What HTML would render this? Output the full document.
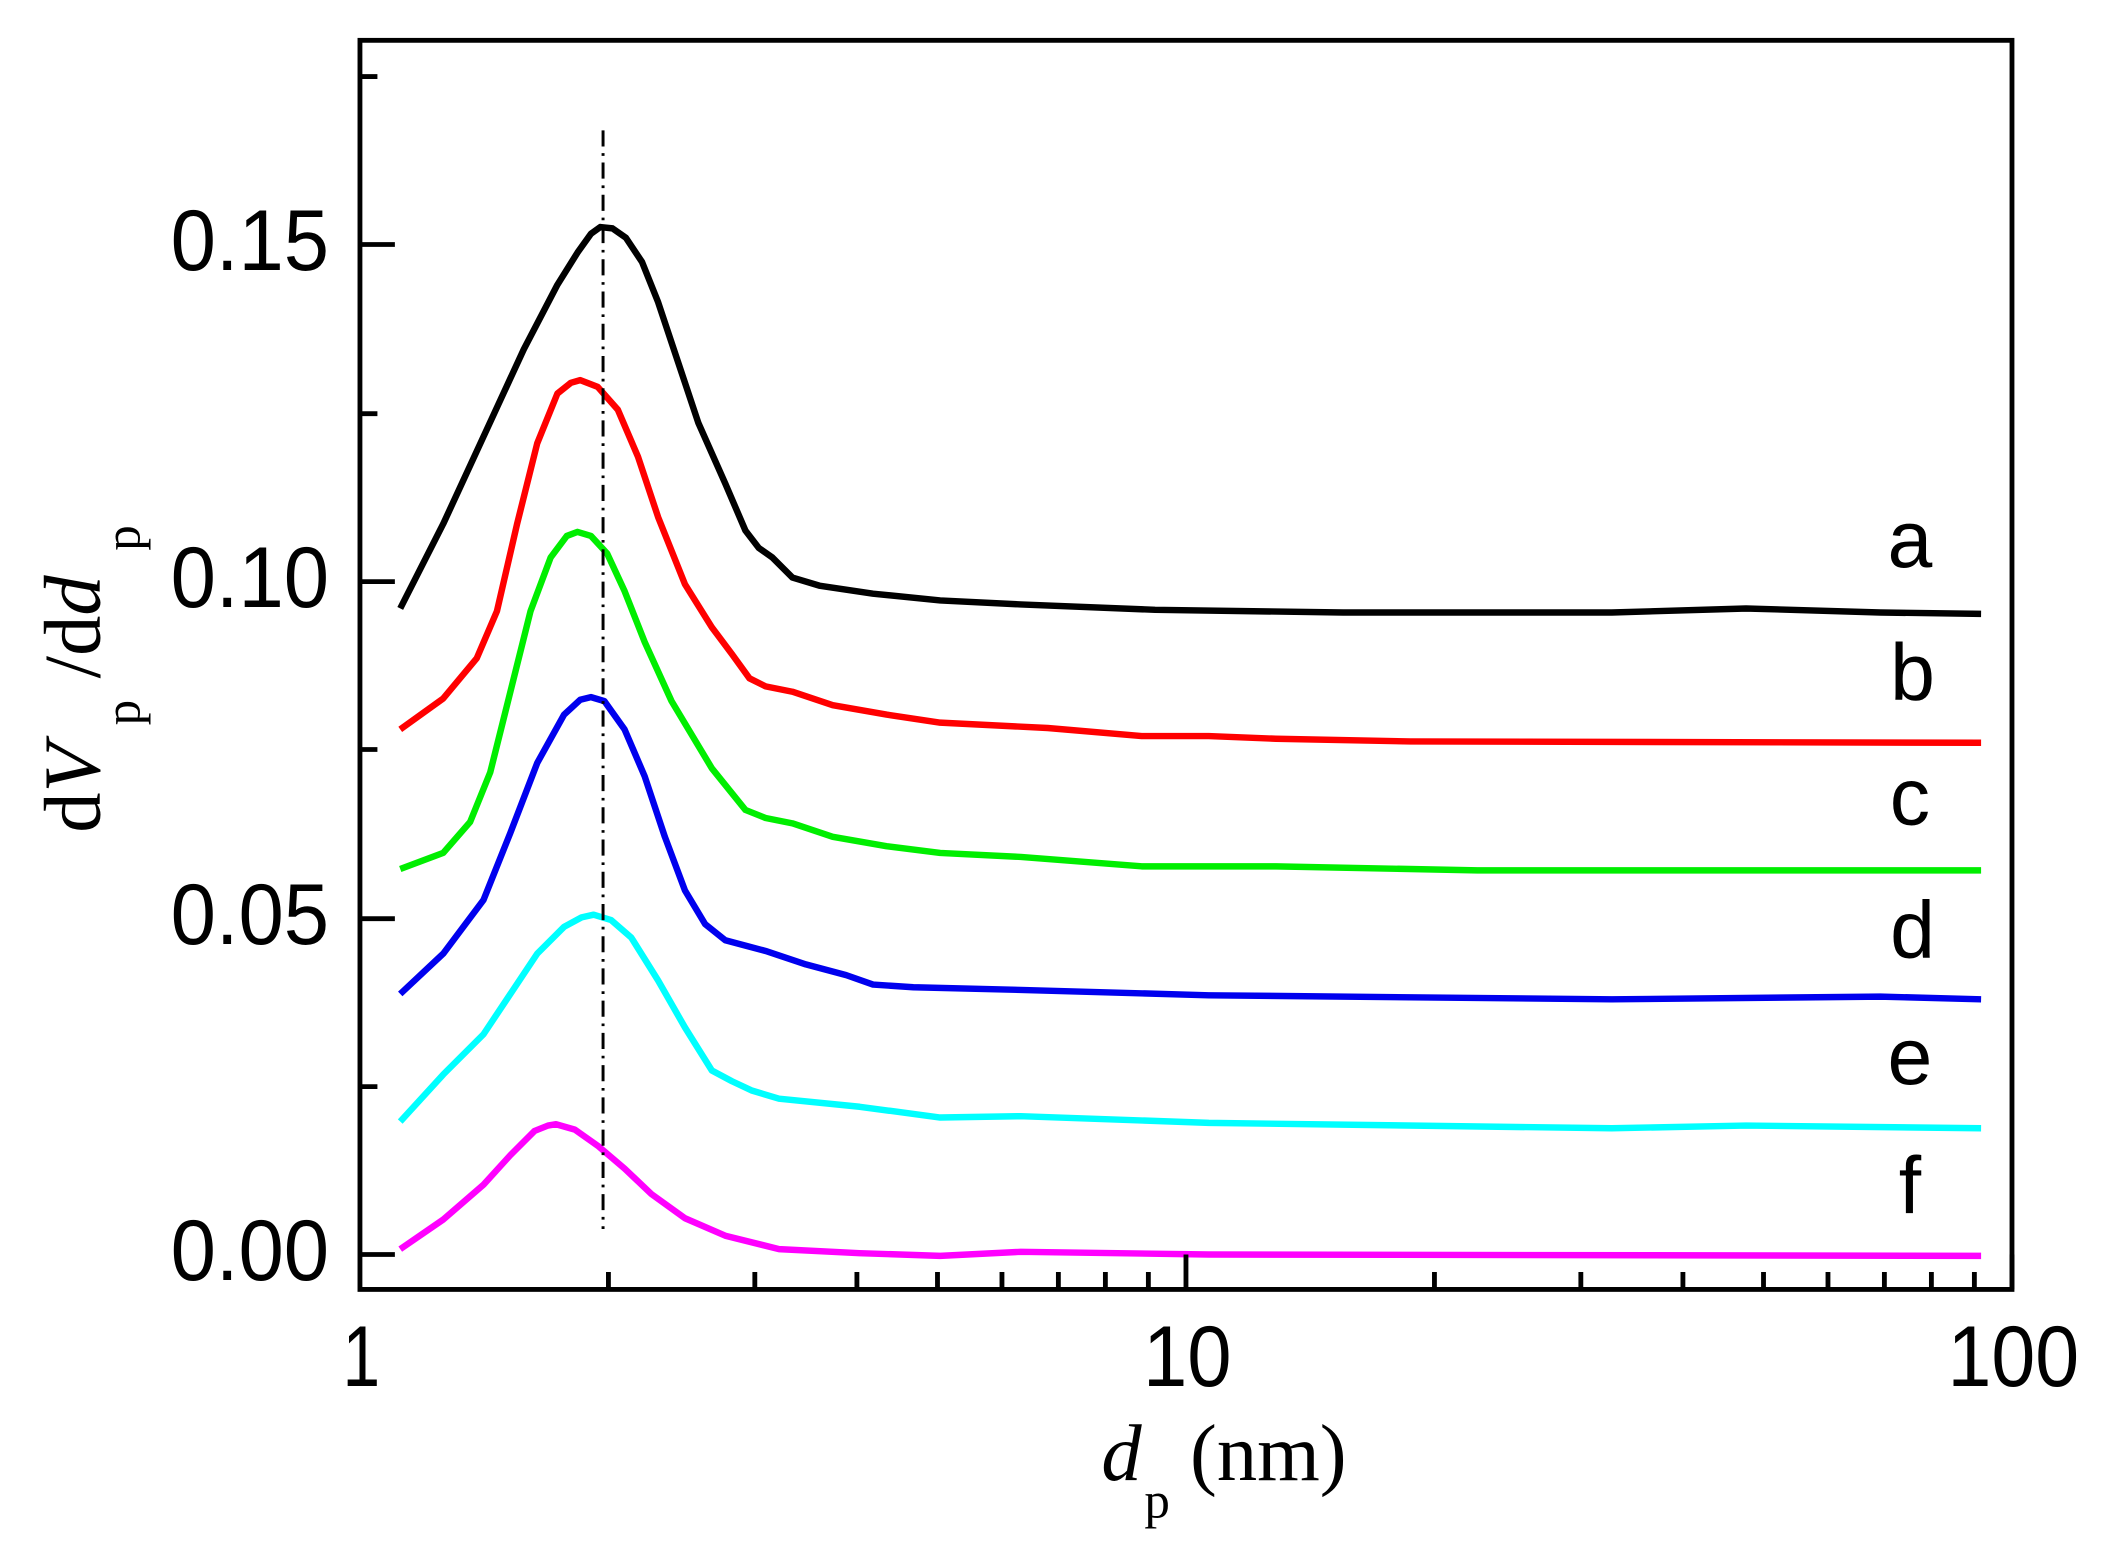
<!DOCTYPE html>
<html><head><meta charset="utf-8"><style>html,body{margin:0;padding:0;background:#fff}svg{display:block}</style></head>
<body>
<svg width="2106" height="1546" viewBox="0 0 1568 1151" xmlns="http://www.w3.org/2000/svg">
<rect width="1568" height="1151" fill="#fff"/>
<g fill="none" stroke-width="4.8" stroke-linejoin="round" stroke-linecap="butt">
<polyline stroke="#000" points="298,453 330,390 360,325 390,260 415,212 430,188 440,174 447,169 456,170 466,177 478,195 490,225 505,270 520,315 540,360 555,395 565,408 575,415 590,430 610,436 650,442 700,447 760,450 860,454 1000,456 1200,456 1300,453 1400,456 1475,457"/>
<polyline stroke="#ff0000" points="298,543 330,520 355,490 370,455 385,390 400,330 415,293 425,285 432,283 445,288 460,305 475,340 490,385 510,435 530,467 545,487 558,505 570,511 590,515 620,525 660,532 700,538 780,542 850,548 900,548 950,550 1050,552 1475,553"/>
<polyline stroke="#00ee00" points="298,647 330,635 350,612 365,575 380,515 395,455 410,415 422,399 430,396 440,399 452,412 465,440 480,478 500,522 530,572 555,603 570,609 590,613 620,623 660,630 700,635 760,638 850,645 950,645 1100,648 1475,648"/>
<polyline stroke="#0000ee" points="298,740 330,710 360,670 380,620 400,568 420,532 432,521 440,519 450,522 465,543 480,578 495,623 510,663 525,688 540,700 555,704 570,708 600,718 630,726 650,733 680,735 760,737 900,741 1200,744 1400,742 1475,744"/>
<polyline stroke="#00ffff" points="298,835 330,800 360,770 380,740 400,710 420,690 433,683 442,681 455,685 470,698 490,730 510,765 530,797 545,805 560,812 580,818 640,824 700,832 760,831 900,836 1200,840 1300,838 1475,840"/>
<polyline stroke="#ff00ff" points="298,930 330,908 360,882 380,860 398,842 408,838 414,837 428,841 445,853 465,870 485,889 510,907 540,920 580,930 640,933 700,935 760,932 900,934 1475,935"/>
</g>
<line x1="449" y1="97" x2="449" y2="915" stroke="#000" stroke-width="2.2" stroke-dasharray="12,5,2,5"/>
<g stroke="#000" stroke-width="3.6" fill="none">
<rect x="268" y="30" width="1230" height="930"/>
<path d="M268,934h26M268,684h26M268,433h26M268,182h26M268,809h13M268,558h13M268,308h13M268,57h13"/>
<path d="M883,960v-26M1498,960v-26M453,960v-13M562,960v-13M638,960v-13M698,960v-13M746,960v-13M788,960v-13M823,960v-13M855,960v-13M1068,960v-13M1177,960v-13M1253,960v-13M1313,960v-13M1361,960v-13M1403,960v-13M1438,960v-13M1470,960v-13"/>
</g>
<g font-family="Liberation Sans, Arial, sans-serif" font-size="64" fill="#000">
<text x="127" y="201" textLength="118" lengthAdjust="spacingAndGlyphs">0.15</text>
<text x="127" y="452" textLength="118" lengthAdjust="spacingAndGlyphs">0.10</text>
<text x="127" y="703" textLength="118" lengthAdjust="spacingAndGlyphs">0.05</text>
<text x="127" y="953" textLength="118" lengthAdjust="spacingAndGlyphs">0.00</text>
<text x="255" y="1032" textLength="28" lengthAdjust="spacingAndGlyphs">1</text>
<text x="851" y="1032" textLength="66" lengthAdjust="spacingAndGlyphs">10</text>
<text x="1450" y="1032" textLength="98" lengthAdjust="spacingAndGlyphs">100</text>
</g>
<g font-family="Liberation Sans, Arial, sans-serif" font-size="60" fill="#000" text-anchor="middle">
<text x="1422" y="422">a</text>
<text x="1424" y="521">b</text>
<text x="1422" y="614">c</text>
<text x="1424" y="713">d</text>
<text x="1422" y="807">e</text>
<text x="1422" y="903">f</text>
</g>
<g font-family="Liberation Serif, Times New Roman, serif" fill="#000">
<text x="820" y="1102" font-size="60" font-style="italic">d</text>
<text x="852" y="1130" font-size="38">p</text>
<text x="886" y="1102" font-size="60">(nm)</text>
<g transform="translate(74,620) rotate(-90)">
<text x="0" y="0" font-size="60">d<tspan font-style="italic">V</tspan></text>
<text x="80" y="30" font-size="38">p</text>
<text x="115" y="0" font-size="60">/d<tspan font-style="italic">d</tspan></text>
<text x="210" y="30" font-size="38">p</text>
</g>
</g>
</svg>
</body></html>
